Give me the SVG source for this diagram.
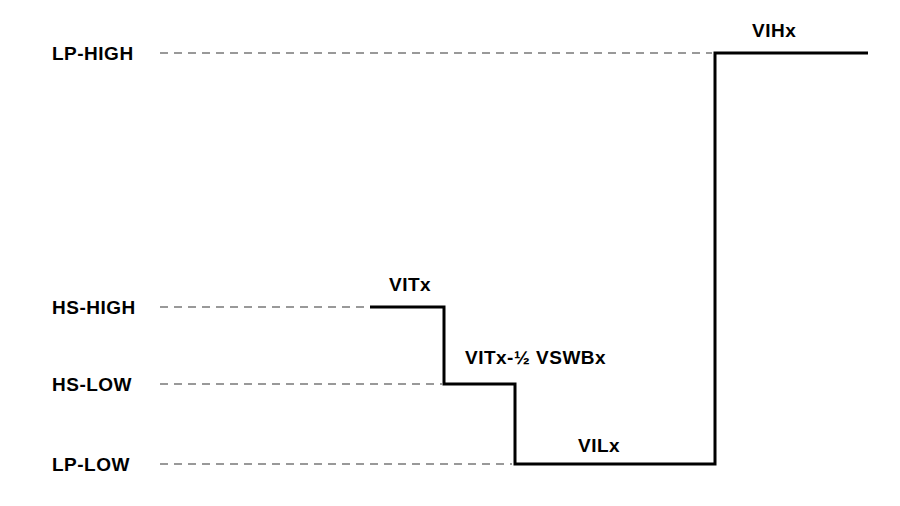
<svg xmlns="http://www.w3.org/2000/svg" width="900" height="506" viewBox="0 0 900 506">
<style>
text{font-family:"Liberation Sans",Arial,sans-serif;font-weight:bold;font-size:19px;letter-spacing:0.5px;fill:#000}
.d{stroke:#999;stroke-width:2;stroke-dasharray:8,6;fill:none}
.s{stroke:#000;stroke-width:3;fill:none}
</style>
<rect width="900" height="506" fill="#fff"/>
<g id="labels">
<text x="52" y="60">LP-HIGH</text>
<text x="52" y="314">HS-HIGH</text>
<text x="52" y="391">HS-LOW</text>
<text x="52" y="471">LP-LOW</text>
</g>
<g id="connectors">
<line class="d" x1="160" y1="53" x2="712" y2="53"/>
<line class="d" x1="160" y1="307" x2="370" y2="307"/>
<line class="d" x1="160" y1="384" x2="442" y2="384"/>
<line class="d" x1="160" y1="464" x2="512" y2="464"/>
<polyline class="s" points="370,307 444,307 444,384 515,384 515,464 715,464 715,53 868,53"/>
</g>
<g id="values">
<text x="752" y="37">VIHx</text>
<text x="389" y="291">VITx</text>
<text x="465" y="364">VITx-½ VSWBx</text>
<text x="578" y="452">VILx</text>
</g>
</svg>
